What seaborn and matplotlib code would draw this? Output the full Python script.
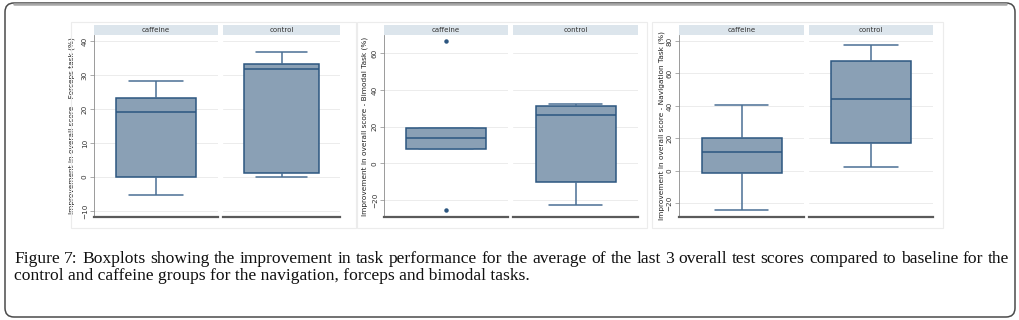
import matplotlib
matplotlib.use("Agg")
import matplotlib.pyplot as plt
import seaborn as sns
from matplotlib.patches import FancyBboxPatch, Rectangle
from matplotlib.transforms import IdentityTransform

# five-number summaries (min, q1, median, q3, max)
groups = ["caffeine", "control"]
forceps_caffeine = [-5.2, 0.0, 19.2, 23.2, 28.2]
forceps_control = [0.0, 1.2, 31.8, 33.4, 36.7]
bimodal_caffeine = [-25.5, 7.6, 13.6, 19.3, 66.7]
bimodal_control = [-22.9, -10.0, 26.2, 31.5, 32.2]
navigation_caffeine = [-24.3, -1.5, 11.6, 20.0, 40.6]
navigation_control = [2.2, 17.0, 44.1, 67.7, 77.7]

ylabels = ["Improvement in overall score - Forceps task (%)",
           "Improvement in overall score - Bimodal Task (%)",
           "Improvement in overall score - Navigation Task (%)"]
yticks = [[-10, 0, 10, 20, 30, 40],
          [-20, 0, 20, 40, 60],
          [-20, 0, 20, 40, 60, 80]]
caption_1 = ("Figure 7: Boxplots showing the improvement in task performance for the average of the "
             "last 3 overall test scores compared to baseline for the")
caption_2 = "control and caffeine groups for the navigation, forceps and bimodal tasks."

panels = [
    dict(data=[forceps_caffeine, forceps_control], ylim=(-11.8, 41.8), x=[94, 223], w=[124, 117],
         box=(71, 356), labx=-19),
    dict(data=[bimodal_caffeine, bimodal_control], ylim=(-29.3, 70.0), x=[384, 513], w=[124, 125],
         box=(357, 647), labx=-16),
    dict(data=[navigation_caffeine, navigation_control], ylim=(-28.4, 83.7), x=[679, 809], w=[125, 124],
         box=(652, 943), labx=-14),
]

sns.set_style("white")
plt.rcParams["font.family"] = ["DejaVu Sans"]

W, H = 1019, 320
fig = plt.figure(figsize=(W / 100, H / 100), dpi=100)

fill = "#8aa0b5"
edge = "#2c5680"
whisk = "#4a6f94"
strip_c = "#dce5ec"
top_px, bot_px = 35, 217

for i, p in enumerate(panels):
    # faint outer frame of each graph
    fig.patches.append(Rectangle((p["box"][0] / W, 1 - 228 / H), (p["box"][1] - p["box"][0]) / W,
                                 (228 - 22) / H, transform=fig.transFigure, fill=False,
                                 edgecolor="#ececec", lw=0.8))
    for j, g in enumerate(groups):
        ax = fig.add_axes([p["x"][j] / W, 1 - bot_px / H, p["w"][j] / W, (bot_px - top_px) / H])
        sns.boxplot(y=p["data"][j], ax=ax, width=0.64, color=fill, linecolor=edge,
                    saturation=1, linewidth=1.1, whis=1.5, fliersize=2.2,
                    flierprops=dict(marker="o", markerfacecolor=edge, markeredgecolor=edge))
        # widen the whisker caps like the Stata look
        for ln in ax.lines:
            xd, yd = list(ln.get_xdata()), list(ln.get_ydata())
            if len(xd) == 2 and xd[0] == xd[1]:
                ln.set_color(whisk)
            elif len(xd) == 2 and yd[0] == yd[1] and abs(xd[1] - xd[0]) < 0.6:
                ln.set_xdata([-0.215, 0.215])
                ln.set_color(whisk)
        ax.set_xlim(-0.5, 0.5)
        ax.set_ylim(*p["ylim"])
        ax.set_yticks(yticks[i])
        ax.set_xticks([])
        ax.yaxis.grid(True, color="#ececec", lw=0.7)
        ax.set_axisbelow(True)
        for s in ["top", "right", "left"]:
            ax.spines[s].set_visible(False)
        ax.spines["bottom"].set_color("#5a5a5a")
        ax.spines["bottom"].set_linewidth(1.6)
        if j == 0:
            ax.spines["left"].set_visible(True)
            ax.spines["left"].set_color("#8a8a8a")
            ax.spines["left"].set_linewidth(0.6)
            ax.tick_params(axis="y", length=3, width=0.5, color="#8a8a8a", pad=1.5,
                           labelsize=5.2, labelcolor="#333333", left=True)
            for t in ax.get_yticklabels():
                t.set_rotation(90)
                t.set_va("center")
            ax.set_ylabel(ylabels[i], fontsize=5.3, color="#222222")
            ax.yaxis.set_label_coords(p["labx"] / p["w"][j], 0.5)
        else:
            ax.tick_params(axis="y", left=False, labelleft=False)
            ax.set_ylabel("")
        # strip header
        sh = 10 / (bot_px - top_px)
        ax.add_patch(Rectangle((0, 1), 1, sh, transform=ax.transAxes, clip_on=False,
                               facecolor=strip_c, edgecolor="none"))
        ax.text(0.5, 1 + sh / 2, g, transform=ax.transAxes, ha="center", va="center",
                fontsize=5, color="#333333")

# rounded outer border
fig.patches.append(FancyBboxPatch((5, H - 317), 1010, 314, boxstyle="round,pad=0,rounding_size=9",
                                  transform=IdentityTransform(), fill=False, edgecolor="#4a4a4a",
                                  lw=1.1))
fig.lines.append(plt.Line2D([14 / W, 1006 / W], [1 - 3.5 / H, 1 - 3.5 / H], transform=fig.transFigure,
                            color="#a8a8a8", lw=1.8))

# caption, first line justified word by word
fig.canvas.draw()
renderer = fig.canvas.get_renderer()
serif = ["Liberation Serif", "DejaVu Serif"]
fs = 12.6


def put_justified(words, y_px, x0, x1):
    texts = [fig.text(0, 1 - y_px / H, w, fontsize=fs, family=serif, va="baseline", ha="left",
                      color="#111111") for w in words]
    widths = [t.get_window_extent(renderer).width for t in texts]
    gap = (x1 - x0 - sum(widths)) / (len(words) - 1)
    x = x0
    for t, w in zip(texts, widths):
        t.set_x(x / W)
        x += w + gap


put_justified(caption_1.split(), 263, 14, 1009)
fig.text(14 / W, 1 - 280 / H, caption_2, fontsize=fs, family=serif, va="baseline", ha="left",
         color="#111111")

fig.savefig("out.png", dpi=100)
